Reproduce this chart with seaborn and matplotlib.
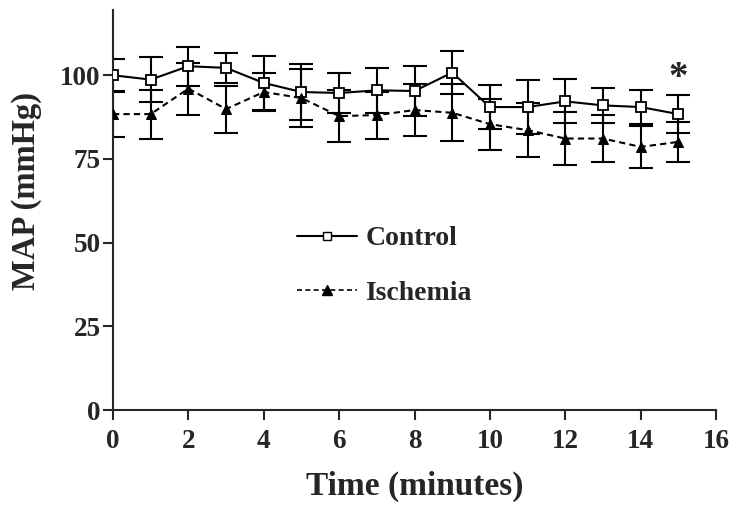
import matplotlib
matplotlib.use("Agg")
import matplotlib.pyplot as plt
from matplotlib.lines import Line2D
import numpy as np
import pandas as pd
import seaborn as sns

# Mean arterial pressure over time (mean ± SD)
minutes = [0, 1, 2, 3, 4, 5, 6, 7, 8, 9, 10, 11, 12, 13, 14, 15]
control_mean = [100.0, 98.7, 102.7, 102.2, 97.7, 95.0, 94.7, 95.5, 95.3, 100.8,
                90.5, 90.5, 92.2, 91.0, 90.5, 88.4]
control_sd = [5.0, 6.8, 5.8, 4.5, 8.1, 8.3, 6.1, 6.8, 7.5, 6.5,
              6.5, 8.0, 6.6, 5.3, 5.0, 5.7]
ischemia_mean = [88.4, 88.4, 96.0, 89.9, 95.0, 93.2, 87.8, 88.1, 89.6, 88.8,
                 85.4, 83.6, 81.1, 81.1, 78.6, 80.1]
ischemia_sd = [6.8, 7.3, 7.8, 7.0, 5.8, 8.7, 7.7, 7.0, 7.8, 8.5,
               7.6, 8.0, 8.0, 7.0, 6.2, 6.0]
group_names = ["Control", "Ischemia"]
x_ticks = [0, 2, 4, 6, 8, 10, 12, 14, 16]
y_ticks = [0, 25, 50, 75, 100]
significant_at = 15

df = pd.DataFrame({
    "time": minutes * 2,
    "MAP": control_mean + ischemia_mean,
    "SD": control_sd + ischemia_sd,
    "group": [group_names[0]] * len(minutes) + [group_names[1]] * len(minutes),
})

sns.set_style("ticks")
plt.rcParams["font.family"] = ["Liberation Serif", "DejaVu Serif"]
plt.rcParams["font.weight"] = "bold"

fig = plt.figure(figsize=(7.31, 5.12), dpi=100)
ax = fig.add_axes([0.1546, 0.1992, 0.8249, 0.7813])

lw = 1.5
# error bars first so the markers sit on top
for name in group_names:
    sub = df[df["group"] == name]
    ax.errorbar(sub["time"], sub["MAP"], yerr=sub["SD"], fmt="none",
                ecolor="black", elinewidth=lw, capsize=8.5, capthick=lw, zorder=2)

sns.lineplot(data=df, x="time", y="MAP", hue="group", style="group",
             palette={"Control": "black", "Ischemia": "black"},
             markers={"Control": "s", "Ischemia": "^"},
             dashes={"Control": "", "Ischemia": (3, 2)},
             linewidth=lw, legend=False, ax=ax, zorder=3)

for line in ax.get_lines():
    if line.get_marker() == "s":
        line.set_markerfacecolor("white")
        line.set_markeredgecolor("black")
        line.set_markeredgewidth(1.3)
        line.set_markersize(6.5)
        line.set_zorder(4)
    elif line.get_marker() == "^":
        line.set_markerfacecolor("black")
        line.set_markeredgecolor("black")
        line.set_markersize(7.5)
        line.set_zorder(4)

# significance marker
ax.text(significant_at, control_mean[-1] + control_sd[-1] - 0.5, "*",
        ha="center", va="bottom", fontsize=28, fontweight="bold")

ax.set_xlim(0, 16)
ax.set_ylim(0, 119.5)
ax.set_xticks(x_ticks)
ax.set_yticks(y_ticks)
ax.tick_params(axis="both", direction="out", length=7, width=lw, labelsize=19.5)
ax.tick_params(axis="x", pad=7)
ax.tick_params(axis="y", pad=2)
for lab in ax.get_xticklabels() + ax.get_yticklabels():
    lab.set_fontweight("bold")
sns.despine(ax=ax)
for side in ("left", "bottom"):
    ax.spines[side].set_linewidth(lw)

ax.set_xlabel("Time (minutes)", fontsize=24, fontweight="bold", labelpad=12)
ax.set_ylabel("MAP (mmHg)", fontsize=23.5, fontweight="bold")
ax.yaxis.set_label_coords(-0.118, 0.547)

handles = [
    Line2D([], [], color="black", linestyle="-", linewidth=lw, marker="s",
           markerfacecolor="white", markeredgecolor="black", markersize=6),
    Line2D([], [], color="black", linestyle=(0, (3, 2)), linewidth=lw - 0.3,
           marker="^", markerfacecolor="black", markeredgecolor="black",
           markersize=7),
]
leg = ax.legend(handles, group_names, loc="upper left",
                bbox_to_anchor=(0.305, 0.46), frameon=False,
                handlelength=2.16, handletextpad=0.3, labelspacing=1.05,
                borderpad=0, borderaxespad=0,
                prop={"family": "Liberation Serif", "weight": "bold", "size": 20})

fig.savefig("out.png", dpi=100)
